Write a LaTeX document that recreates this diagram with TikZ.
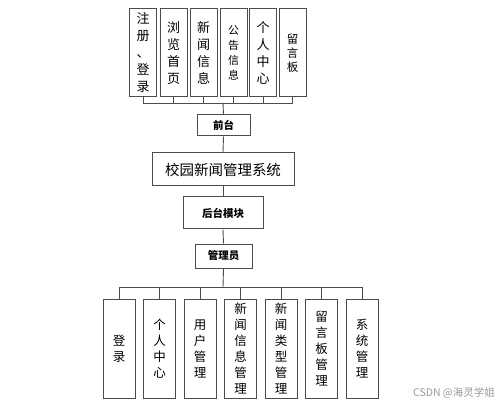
\documentclass[tikz,border=0pt]{standalone}
\usepackage{fontspec}
\newfontfamily\cjk{Noto Sans CJK SC}
\begin{document}
\begin{tikzpicture}[x=1pt,y=-1pt,
  line/.style={draw=black!70,line width=0.9pt},
  vbox/.style={draw=black!70,line width=1pt,fill=white,inner sep=0pt,align=center,
     font=\cjk\fontsize{13}{17}\selectfont},
  tbox/.style={vbox,minimum width=27pt,minimum height=88pt},
  bbox/.style={vbox,minimum width=32pt,minimum height=99pt,font=\cjk\fontsize{12.5}{16}\selectfont},
  hbox/.style={draw=black!70,line width=1pt,fill=white,inner sep=0pt,
     font=\cjk\bfseries\fontsize{10.5}{12}\selectfont}]
\useasboundingbox (0,0) rectangle (499,404);
% top row
\node[tbox] (t1) at (143,53) {注\\册\\、\\登\\录};
\node[tbox] (t2) at (173.5,53) {浏\\览\\首\\页};
\node[tbox] (t3) at (203.5,53) {新\\闻\\信\\息};
\node[tbox,font=\cjk\fontsize{11}{15}\selectfont] (t4) at (233.5,53) {公\\告\\信\\息};
\node[tbox] (t5) at (263,53) {个\\人\\中\\心};
\node[tbox,font=\cjk\fontsize{11.5}{14}\selectfont] (t6) at (292.5,53) {留\\言\\板};
\coordinate (busT) at (223,103);
% middle column
\node[hbox,minimum width=53pt,minimum height=21pt] (qt) at (223.5,125.5) {前台};
\node[hbox,minimum width=142pt,minimum height=33pt,font=\cjk\fontsize{14.5}{16}\selectfont] (sys) at (223,169.5) {校园新闻管理系统};
\node[hbox,minimum width=80pt,minimum height=32pt] (ht) at (223,213) {后台模块};
\node[hbox,minimum width=57pt,minimum height=24pt] (gly) at (223.5,256) {管理员};
\coordinate (busB) at (223,287);
% bottom row
\node[bbox] (b1) at (119,348.5) {登\\录};
\node[bbox] (b2) at (159.5,348.5) {个\\人\\中\\心};
\node[bbox] (b3) at (200,348.5) {用\\户\\管\\理};
\node[bbox] (b4) at (240.5,348.5) {新\\闻\\信\\息\\管\\理};
\node[bbox] (b5) at (281,348.5) {新\\闻\\类\\型\\管\\理};
\node[bbox] (b6) at (321.5,348.5) {留\\言\\板\\管\\理};
\node[bbox] (b7) at (362,348.5) {系\\统\\管\\理};
% connectors
\foreach \n in {t1,t2,t3,t4,t5,t6} \draw[line] (\n.south) |- (busT);
\draw[line] (busT) -- (qt.north);
\draw[line] (qt.south) -- (sys.north);
\draw[line] (sys.south) -- (ht.north);
\draw[line] (ht.south) -- (gly.north);
\draw[line] (gly.south) -- (busB);
\foreach \n in {b1,b2,b3,b4,b5,b6,b7} \draw[line] (busB) -| (\n.north);
% watermark
\node[text=black!40,font=\cjk\fontsize{10.5}{12}\selectfont,inner sep=0pt] (wm) at (454,393) {CSDN @海灵学姐};
\end{tikzpicture}
\end{document}
